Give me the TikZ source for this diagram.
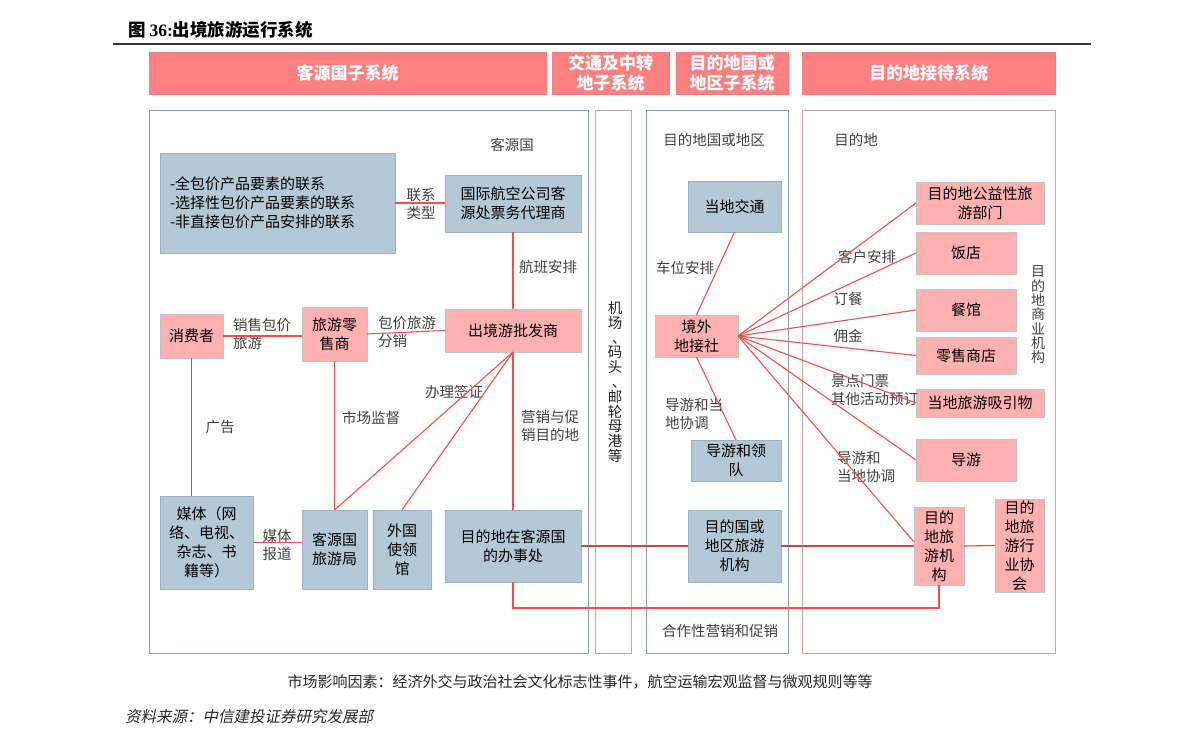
\documentclass[tikz,border=0pt]{standalone}
\usepackage{fontspec}
\setmainfont{Noto Sans CJK SC}
\newfontfamily\lserif{Liberation Serif}
\newfontfamily\cjkit[FakeSlant=0.2]{Noto Sans CJK SC}
\newcommand\fsz[2]{\fontsize{#1}{#2}\selectfont}
\newcommand\vcomma{\makebox[0pt][l]{\hspace{4pt}、}\hphantom{、}}
\definecolor{hdrred}{HTML}{FF8080}
\definecolor{bxpink}{HTML}{FFB0B0}
\definecolor{bxblue}{HTML}{B4C8D6}
\definecolor{bdblue}{HTML}{9DAFC0}
\definecolor{bdgray}{HTML}{C4C4C4}
\definecolor{lnred}{HTML}{EE5050}
\definecolor{lndark}{HTML}{C45050}
\definecolor{colblue}{HTML}{8C9CAC}
\definecolor{colpink}{HTML}{C8A4A4}
\definecolor{lbltext}{HTML}{404040}
\begin{document}
\begin{tikzpicture}[x=1pt,y=-1pt,
  every node/.style={inner sep=0pt,outer sep=0pt},
  hdr/.style={fill=hdrred,draw=hdrred!85!gray,line width=0.6pt,text=white,font=\fsz{17}{20}\bfseries,align=center,minimum height=42pt},
  colbox/.style={draw=#1,line width=0.9pt},
  bbox/.style={fill=bxblue,draw=bdblue,line width=0.7pt,align=center,font=\fsz{15}{19},text=black},
  pbox/.style={fill=bxpink,draw=bdgray,line width=0.7pt,align=center,font=\fsz{15}{19},text=black},
  lbl/.style={font=\fsz{14.5}{18},text=lbltext,align=center},
  conn/.style={draw=lnred,line width=1.1pt},
  bw/.style 2 args={minimum width=#1pt,minimum height=#2pt}
]
\useasboundingbox (0,0) rectangle (1191,746);
% title
\node[anchor=west,font=\fsz{17.5}{20}\bfseries] (title) at (128,30) {图 {\lserif\bfseries 36:}出境旅游运行系统};
\draw[line width=1.2pt,draw=black!80] (113,44) -- (1091,44);
% headers
\node[hdr,minimum width=397pt] (h1) at (347.5,73) {客源国子系统};
\node[hdr,minimum width=117pt] (h2) at (610.5,73) {交通及中转\\地子系统};
\node[hdr,minimum width=112pt] (h3) at (732,73) {目的地国或\\地区子系统};
\node[hdr,minimum width=253pt] (h4) at (928.5,73) {目的地接待系统};
% columns
\draw[colbox=colblue] (149,110) rectangle (588,653);
\draw[colbox=colpink] (595,110) rectangle (631,653);
\draw[colbox=colblue] (646,110) rectangle (788,653);
\draw[colbox=colpink] (802,110) rectangle (1055,653);
% column 1 nodes
\node[bbox,bw={235}{100},align=left,text width=215pt,inner xsep=10pt] (big) at (277.5,203) {-全包价产品要素的联系\\-选择性包价产品要素的联系\\-非直接包价产品安排的联系};
\node[bbox,bw={136}{57}] (air) at (513,203.5) {国际航空公司客\\源处票务代理商};
\node[pbox,bw={63}{44}] (xfz) at (191.5,336) {消费者};
\node[pbox,bw={65}{54}] (lsh) at (334.5,334) {旅游零\\售商};
\node[pbox,bw={136}{43}] (pifa) at (513,330.5) {出境游批发商};
\node[bbox,bw={93}{93}] (media) at (206.5,542.5) {媒体（网\\络、电视、\\杂志、书\\籍等）};
\node[bbox,bw={65}{79}] (jvyou) at (334.5,549.5) {客源国\\旅游局};
\node[bbox,bw={58}{79}] (sgl) at (402,549.5) {外国\\使领\\馆};
\node[bbox,bw={136}{72}] (bsc) at (513,546) {目的地在客源国\\的办事处};
% column 1 labels
\node[lbl] (l1) at (512,145) {客源国};
\node[lbl] (l2) at (421,204) {联系\\类型};
\node[lbl] (l3) at (548,267) {航班安排};
\node[lbl,anchor=west,align=left] (l4) at (233,334) {销售包价\\旅游};
\node[lbl,anchor=west,align=left] (l5) at (378,332) {包价旅游\\分销};
\node[lbl] (l6) at (454,392) {办理签证};
\node[lbl] (l7) at (371,418) {市场监督};
\node[lbl] (l8) at (220,427) {广告};
\node[lbl] (l9) at (550,426) {营销与促\\销目的地};
\node[lbl] (l10) at (277,545) {媒体\\报道};
% column 2
\node[lbl,font=\fsz{14.5}{14.8},text=black!85] (c2) at (615,382) {机\\场\\\vcomma\\码\\头\\\vcomma\\邮\\轮\\母\\港\\等};
% column 3 nodes
\node[bbox,bw={93}{51}] (jtong) at (734.5,206.5) {当地交通};
\node[pbox,bw={83}{42}] (dijie) at (696.5,336) {境外\\地接社};
\node[bbox,bw={90}{41}] (dy1) at (736,460.5) {导游和领\\队};
\node[bbox,bw={93}{72}] (mdg) at (734.5,546) {目的国或\\地区旅游\\机构};
\node[lbl] (m1) at (714,140) {目的地国或地区};
\node[lbl] (m2) at (685,268) {车位安排};
\node[lbl,anchor=west,align=left] (m3) at (665,414) {导游和当\\地协调};
\node[lbl] (m4) at (720,631) {合作性营销和促销};
% column 4 nodes
\node[pbox,bw={128}{42}] (gongyi) at (980,203) {目的地公益性旅\\游部门};
\node[pbox,bw={100}{42}] (fandian) at (966,253) {饭店};
\node[pbox,bw={100}{42}] (canguan) at (966,310) {餐馆};
\node[pbox,bw={100}{37}] (lingshou) at (966,355.5) {零售商店};
\node[pbox,bw={128}{28}] (xiyin) at (980,403) {当地旅游吸引物};
\node[pbox,bw={100}{42}] (daoyou) at (966,460) {导游};
\node[pbox,bw={50}{78}] (jigou) at (939,546) {目的\\地旅\\游机\\构};
\node[pbox,bw={49}{93}] (xiehui) at (1019.5,545.5) {目的\\地旅\\游行\\业协\\会};
\node[lbl] (d1) at (856,140) {目的地};
\node[lbl] (d2) at (867,257) {客户安排};
\node[lbl] (d3) at (848,299) {订餐};
\node[lbl] (d4) at (848,336) {佣金};
\node[lbl,anchor=west,align=left] (d5) at (831,390) {景点门票\\其他活动预订};
\node[lbl,anchor=west,align=left] (d6) at (837,467) {导游和\\当地协调};
\node[lbl,font=\fsz{14}{14.3}] (d7) at (1038,315) {目\\的\\地\\商\\业\\机\\构};
% connectors column 1
\draw[conn] (big.east) -- (big.east -| air.west);
\draw[conn] (air.south) -- (pifa.north);
\draw[conn] (xfz.east) -- (xfz.east -| lsh.west);
\draw[conn] (lsh.east) -- (pifa.west);
\draw[conn,draw=lndark] (xfz.south) -- (media.north -| xfz.south);
\draw[conn] (lsh.south) -- (jvyou.north);
\draw[conn] (pifa.south) -- (jvyou.north);
\draw[conn] (pifa.south) -- (sgl.north);
\draw[conn] (pifa.south) -- (bsc.north);
\draw[conn] (media.east) -- (media.east -| jvyou.west);
\coordinate (b1) at (513,608);
\draw[conn] (bsc.south) -- (b1) -| (jigou.south);
\draw[conn,draw=lndark!90!red] (bsc.east) -- (mdg.west);
\draw[conn,draw=lndark!90!red] (mdg.east) -- (jigou.west);
\draw[conn,draw=lndark!90!red] (jigou.east) -- (xiehui.west);
% connectors column 3/4
\draw[conn] (jtong.south) -- (dijie.north);
\draw[conn] (dijie.south) -- (dy1.north);
\foreach \t in {gongyi,fandian,canguan,lingshou,xiyin,daoyou}{
  \draw[conn] (dijie.east) -- (\t.west);
}
\draw[conn] (dijie.east) -- ([yshift=4pt]jigou.west);
% bottom texts
\node[font=\fsz{15}{18},text=black!85] (mkt) at (580,682) {市场影响因素：经济外交与政治社会文化标志性事件，航空运输宏观监督与微观规则等等};
\node[anchor=west,font=\fsz{15.5}{18}\cjkit,text=black!85] (src) at (125,717) {资料来源：中信建投证券研究发展部};
\end{tikzpicture}
\end{document}
